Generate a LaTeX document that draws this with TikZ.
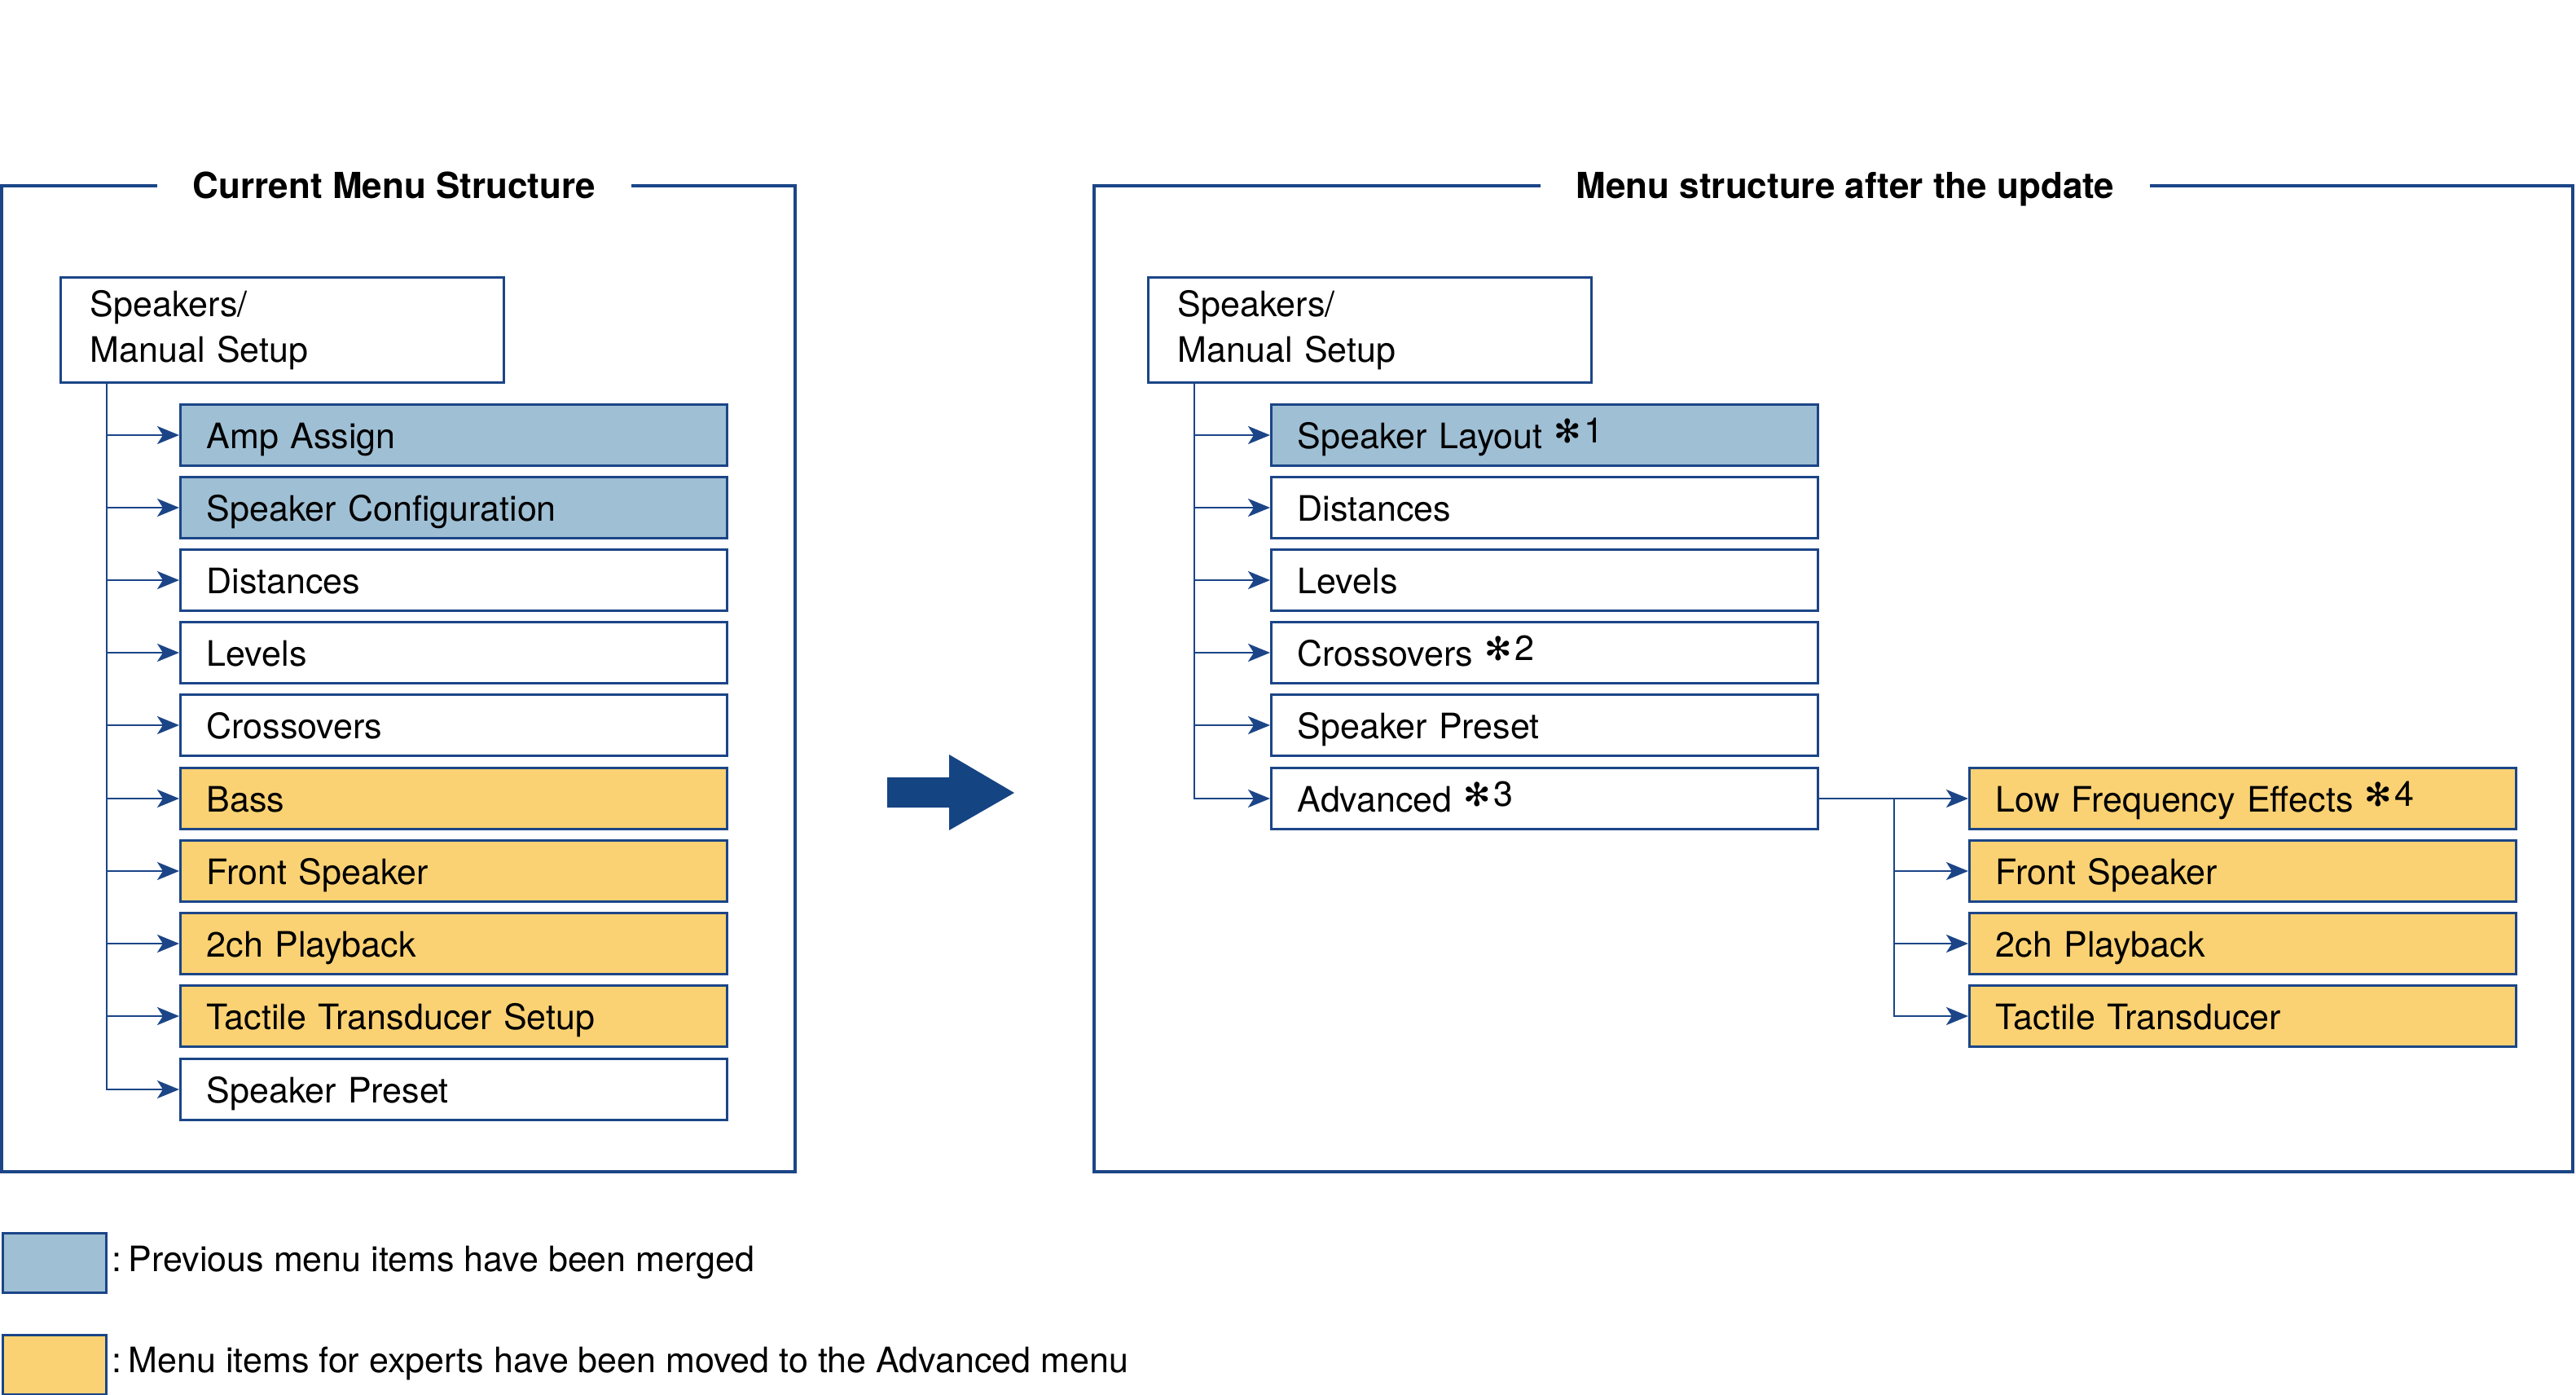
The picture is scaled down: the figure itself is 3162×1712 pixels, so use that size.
\documentclass[tikz,border=0pt]{standalone}
\usepackage{fontspec}
\setmainfont{TeX Gyre Heros}
\newfontfamily\symfont{DejaVu Sans}
\usetikzlibrary{arrows.meta,calc}
\definecolor{navy}{RGB}{27,69,135}
\definecolor{lblue}{RGB}{159,191,212}
\definecolor{lyellow}{RGB}{251,210,115}
\definecolor{bigarrow}{RGB}{21,68,131}
\newcommand{\starnote}[1]{\hspace{0.33em}\raisebox{3.5pt}{{\symfont\fontsize{20}{20}\selectfont ✻}\hspace{1.5pt}#1}}
\begin{document}
\begin{tikzpicture}[x=0.5pt,y=-0.5pt,
  every node/.style={font=\fontsize{21.5}{28}\selectfont},
  frame/.style={draw=navy,line width=1.7pt},
  ttl/.style={fill=white,inner xsep=22pt,inner ysep=4pt,text height=15.6pt,text depth=0pt,font=\fontsize{22}{28}\selectfont\bfseries},
  item/.style={draw=navy,line width=1.7pt,fill=white,anchor=west,minimum width=335.5pt,minimum height=37.5pt,text width=303.5pt,inner xsep=16pt,text height=17pt,text depth=0.4pt,align=left},
  rootbox/.style={draw=navy,line width=1.7pt,fill=white,anchor=north west,minimum width=272pt,minimum height=64.5pt,text width=236pt,inner xsep=18pt,align=left},
  bl/.style={item,fill=lblue},
  yl/.style={item,fill=lyellow},
  conn/.style={draw=navy,line width=1.4pt},
  arr/.style={conn,-{Stealth[length=13.5pt,width=11pt,inset=3.5pt]}},
  legbox/.style={draw=navy,line width=1.7pt,anchor=north west,minimum width=63.5pt,minimum height=36.5pt},
  legtxt/.style={anchor=west,inner sep=0pt}
]
\useasboundingbox (0,0) rectangle (3162,1712);
% frames
\draw[frame] (2,228) rectangle (976,1438);
\draw[frame] (1343,228) rectangle (3158,1438);
\node[ttl] (t1) at (484,228) {Current Menu Structure};
\node[ttl] (t2) at (2265,228) {Menu structure after the update};

% left tree
\node[rootbox] (lr) at (73,339) {Speakers/\\Manual Setup};
\coordinate (lt) at ($(lr.south west)+(58,0)$);
\node[bl] (l1) at (220,534) {Amp Assign};
\node[bl] (l2) at (220,623) {Speaker Configuration};
\node[item] (l3) at (220,712) {Distances};
\node[item] (l4) at (220,801) {Levels};
\node[item] (l5) at (220,890) {Crossovers};
\node[yl] (l6) at (220,980) {Bass};
\node[yl] (l7) at (220,1069) {Front Speaker};
\node[yl] (l8) at (220,1158) {2ch Playback};
\node[yl] (l9) at (220,1247) {Tactile Transducer Setup};
\node[item] (l10) at (220,1337) {Speaker Preset};
\draw[arr] (lt) |- (l10.west);
\foreach \n in {l1,l2,l3,l4,l5,l6,l7,l8,l9}{\draw[arr] (\n.west -| lt) -- (\n.west);}

% big arrow
\fill[bigarrow] (1089,954) -- (1165,954) -- (1165,926) -- (1245,973) -- (1165,1019) -- (1165,991) -- (1089,991) -- cycle;

% right tree
\node[rootbox] (rr) at (1408,339) {Speakers/\\Manual Setup};
\coordinate (rt) at ($(rr.south west)+(58,0)$);
\node[bl] (r1) at (1559,534) {Speaker Layout\starnote{1}};
\node[item] (r2) at (1559,623) {Distances};
\node[item] (r3) at (1559,712) {Levels};
\node[item] (r4) at (1559,801) {Crossovers\starnote{2}};
\node[item] (r5) at (1559,890) {Speaker Preset};
\node[item] (r6) at (1559,980) {Advanced\starnote{3}};
\draw[arr] (rt) |- (r6.west);
\foreach \n in {r1,r2,r3,r4,r5}{\draw[arr] (\n.west -| rt) -- (\n.west);}

\node[yl] (s1) at (2416,980) {Low Frequency Effects\starnote{4}};
\node[yl] (s2) at (2416,1069) {Front Speaker};
\node[yl] (s3) at (2416,1158) {2ch Playback};
\node[yl] (s4) at (2416,1247) {Tactile Transducer};
\coordinate (st) at (2325,980);
\draw[arr] (r6.east) -- (s1.west);
\draw[arr] (st) |- (s4.west);
\draw[arr] (s2.west -| st) -- (s2.west);
\draw[arr] (s3.west -| st) -- (s3.west);

% legend
\node[legbox,fill=lblue] (k1) at (2,1512) {};
\node[legbox,fill=lyellow] (k2) at (2,1637) {};
\node[legtxt] (k1t) at (137,1549) {:\hspace{0.2em}Previous menu items have been merged};
\node[legtxt] (k2t) at (137,1673) {:\hspace{0.2em}Menu items for experts have been moved to the Advanced menu};
\end{tikzpicture}
\end{document}
